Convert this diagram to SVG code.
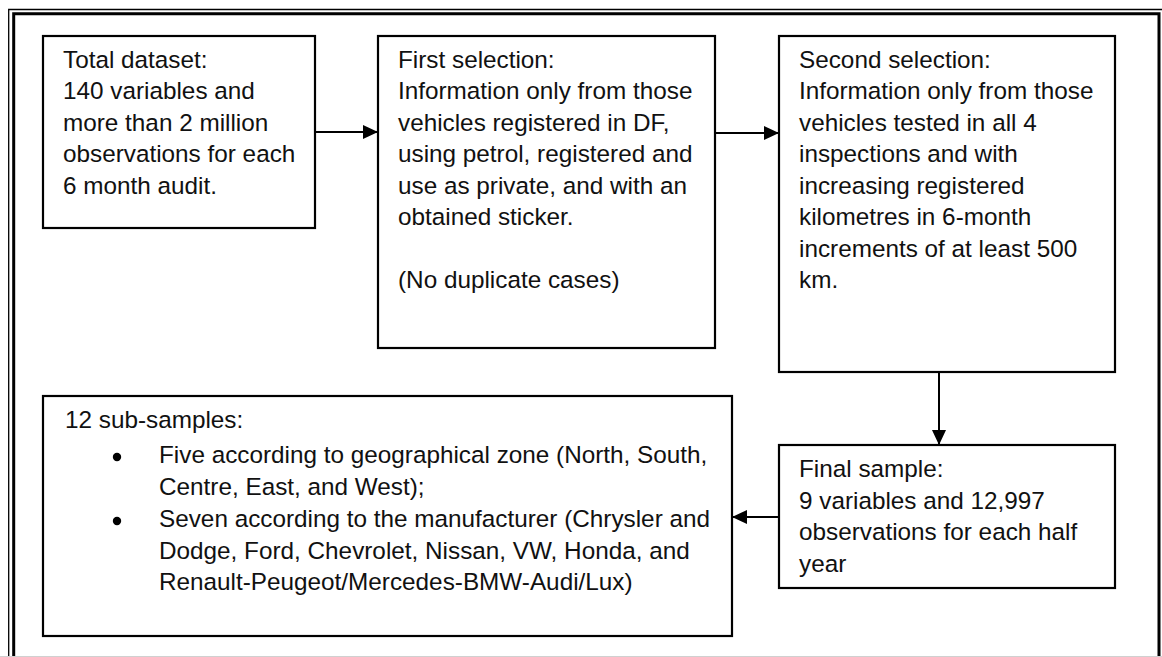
<svg xmlns="http://www.w3.org/2000/svg" width="1162" height="657" viewBox="0 0 1162 657">
<style>
.box{fill:#fff;stroke:#000;stroke-width:2.2}
.t{font-family:"Liberation Sans",Arial,sans-serif;font-size:24.3px;fill:#111}
.c{stroke:#000;stroke-width:2;fill:none}
</style>
<defs>
<marker id="ah" viewBox="0 0 15 14" refX="15" refY="7" markerWidth="15" markerHeight="14" markerUnits="userSpaceOnUse" orient="auto">
<path d="M0,0 L15,7 L0,14 z" fill="#000"/>
</marker>
</defs>
<rect width="1162" height="657" fill="#fff"/>
<g id="frame">
<path d="M8.7,657 V9.5 H1162" fill="none" stroke="#000" stroke-width="1.3"/>
<path d="M13.7,657 V13.7 H1159 V657" fill="none" stroke="#000" stroke-width="3"/>
<line x1="0" y1="656.5" x2="1162" y2="656.5" stroke="#d0d0d0" stroke-width="1"/>
</g>
<g id="total-dataset">
<rect class="box" x="43" y="36" width="272" height="192"/>
<text class="t"><tspan x="63" y="67.5">Total dataset:</tspan><tspan x="63" y="99">140 variables and</tspan><tspan x="63" y="130.5">more than 2 million</tspan><tspan x="63" y="162">observations for each</tspan><tspan x="63" y="193.5">6 month audit.</tspan></text>
</g>
<g id="first-selection">
<rect class="box" x="378" y="36" width="337" height="312"/>
<text class="t"><tspan x="398" y="67.5">First selection:</tspan><tspan x="398" y="99">Information only from those</tspan><tspan x="398" y="130.5">vehicles registered in DF,</tspan><tspan x="398" y="162">using petrol, registered and</tspan><tspan x="398" y="193.5">use as private, and with an</tspan><tspan x="398" y="225">obtained sticker.</tspan><tspan x="398" y="288">(No duplicate cases)</tspan></text>
</g>
<g id="second-selection">
<rect class="box" x="779" y="36" width="336" height="336"/>
<text class="t"><tspan x="799" y="67.5">Second selection:</tspan><tspan x="799" y="99">Information only from those</tspan><tspan x="799" y="130.5">vehicles tested in all 4</tspan><tspan x="799" y="162">inspections and with</tspan><tspan x="799" y="193.5">increasing registered</tspan><tspan x="799" y="225">kilometres in 6-month</tspan><tspan x="799" y="256.5">increments of at least 500</tspan><tspan x="799" y="288">km.</tspan></text>
</g>
<g id="final-sample">
<rect class="box" x="779" y="445" width="336" height="143"/>
<text class="t"><tspan x="799" y="477">Final sample:</tspan><tspan x="799" y="508.5">9 variables and 12,997</tspan><tspan x="799" y="540">observations for each half</tspan><tspan x="799" y="571.5">year</tspan></text>
</g>
<g id="sub-samples">
<rect class="box" x="43" y="396" width="689" height="240"/>
<text class="t"><tspan x="65" y="428">12 sub-samples:</tspan><tspan x="159" y="463">Five according to geographical zone (North, South,</tspan><tspan x="159" y="494.5">Centre, East, and West);</tspan><tspan x="159" y="527">Seven according to the manufacturer (Chrysler and</tspan><tspan x="159" y="558.5">Dodge, Ford, Chevrolet, Nissan, VW, Honda, and</tspan><tspan x="159" y="590">Renault-Peugeot/Mercedes-BMW-Audi/Lux)</tspan></text>
<circle cx="117" cy="457" r="4.2" fill="#000"/>
<circle cx="117" cy="521" r="4.2" fill="#000"/>
</g>
<g id="connectors">
<line class="c" x1="315" y1="132" x2="378" y2="132" marker-end="url(#ah)"/>
<line class="c" x1="715" y1="133" x2="779" y2="133" marker-end="url(#ah)"/>
<line class="c" x1="939" y1="372" x2="939" y2="445" marker-end="url(#ah)"/>
<line class="c" x1="779" y1="517" x2="732" y2="517" marker-end="url(#ah)"/>
</g>
</svg>
